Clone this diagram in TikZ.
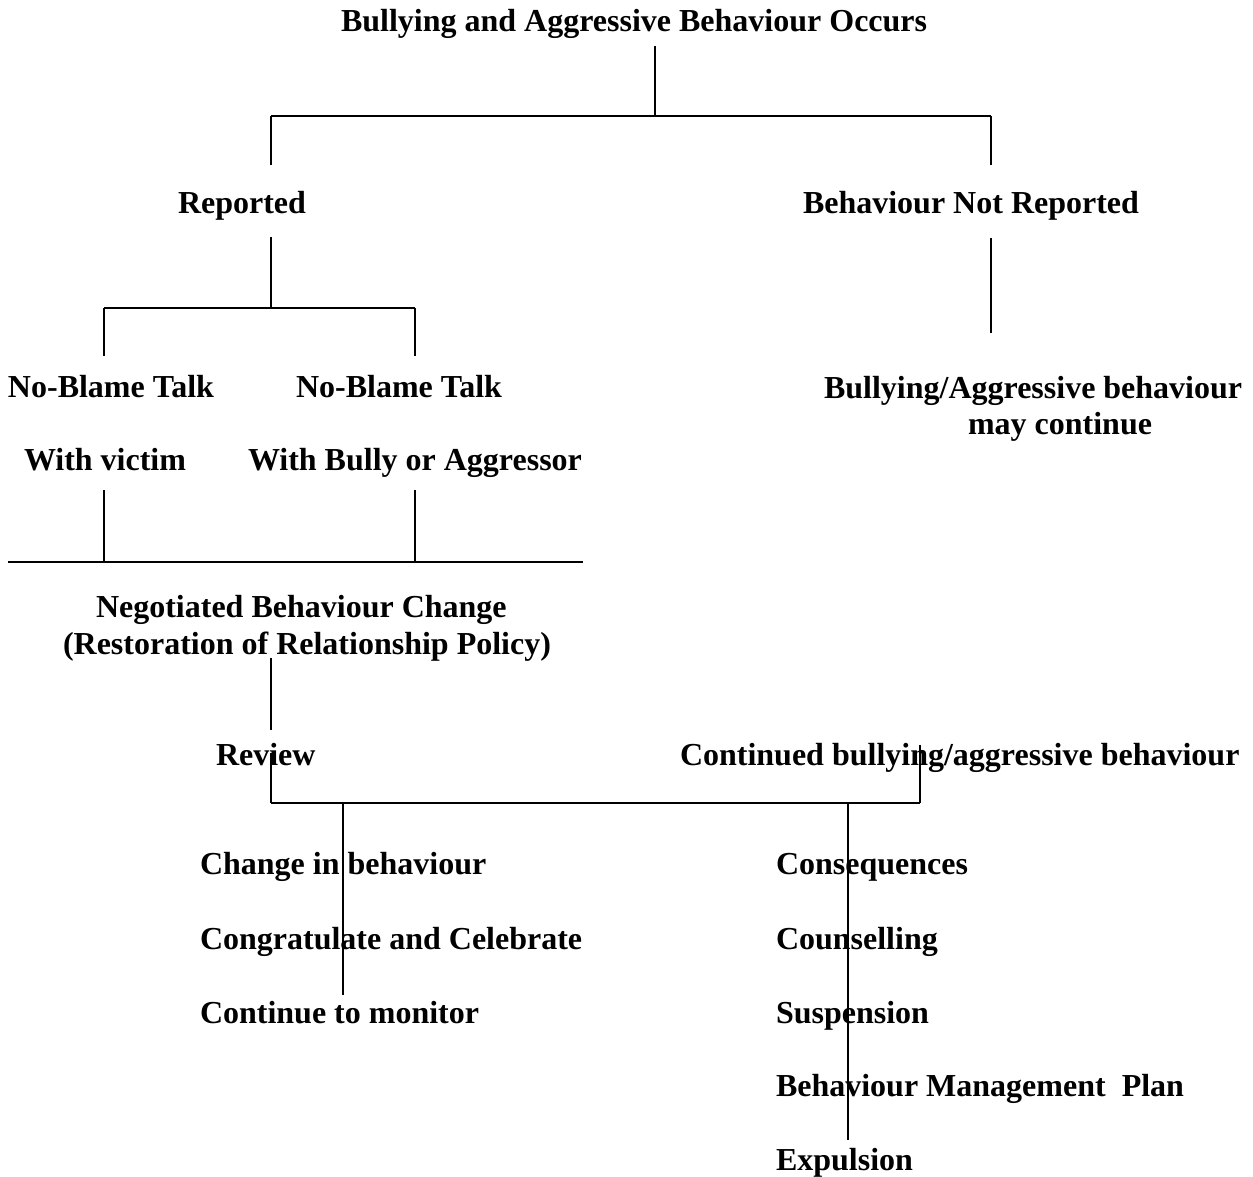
\documentclass[tikz,border=0pt]{standalone}
\usepackage{fontspec}
\setmainfont{Liberation Serif}
\begin{document}
\begin{tikzpicture}[x=1pt,y=-1pt,
  lbl/.style={inner sep=0pt,outer sep=0pt,anchor=base west,font=\fontsize{32}{37}\selectfont\bfseries},
  vline/.style={line width=1.3pt},
  hline/.style={line width=2.2pt}]
\useasboundingbox[fill=white] (0,0) rectangle (1253,1176);
% texts
\node[lbl] (title) at (341,31) {Bullying and Aggressive Behaviour Occurs};
\node[lbl] (rep) at (178,213) {Reported};
\node[lbl] (notrep) at (803,213) {Behaviour Not Reported};
\node[lbl] (nb1) at (8,397) {No-Blame Talk};
\node[lbl] (nb2) at (296,397) {No-Blame Talk};
\node[lbl] (wv) at (24,470) {With victim};
\node[lbl] (wb) at (248,470) {With Bully or Aggressor};
\node[lbl] (bac) at (824,398) {Bullying/Aggressive behaviour};
\node[lbl] (mc) at (968,434) {may continue};
\node[lbl] (neg) at (96,617) {Negotiated Behaviour Change};
\node[lbl] (rest) at (63,654) {(Restoration of Relationship Policy)};
\node[lbl] (review) at (216,765) {Review};
\node[lbl] (cont) at (680,765) {Continued bullying/aggressive behaviour};
\node[lbl] (cib) at (200,874) {Change in behaviour};
\node[lbl] (cong) at (200,949) {Congratulate and Celebrate};
\node[lbl] (ctm) at (200,1023) {Continue to monitor};
\node[lbl] (cons) at (776,874) {Consequences};
\node[lbl] (couns) at (776,949) {Counselling};
\node[lbl] (susp) at (776,1023) {Suspension};
\node[lbl] (bmp) at (776,1096) {Behaviour Management\ \ Plan};
\node[lbl] (exp) at (776,1170) {Expulsion};
% junction coordinates
\coordinate (a0) at (655,46);
\coordinate (a1) at (655,116);
\coordinate (aL) at (271,116);
\coordinate (aR) at (991,116);
\coordinate (aLd) at (271,165);
\coordinate (aRd) at (991,165);
\coordinate (b0) at (271,237);
\coordinate (b1) at (271,308);
\coordinate (bL) at (104,308);
\coordinate (bR) at (415,308);
\coordinate (bLd) at (104,356);
\coordinate (bRd) at (415,356);
\coordinate (n0) at (991,238);
\coordinate (n1) at (991,333);
\coordinate (c0L) at (104,490);
\coordinate (c0R) at (415,490);
\coordinate (c1L) at (104,562);
\coordinate (c1R) at (415,562);
\coordinate (cW) at (8,562);
\coordinate (cE) at (583,562);
\coordinate (d0) at (271,658);
\coordinate (d1) at (271,730);
\coordinate (e0L) at (271,753);
\coordinate (e0R) at (920,745);
\coordinate (e1L) at (271,803);
\coordinate (e1R) at (920,803);
\coordinate (f0L) at (343,803);
\coordinate (f1L) at (343,995);
\coordinate (f0R) at (848,803);
\coordinate (f1R) at (848,1140);
% connectors
\draw[vline] (a0) -- (a1);
\draw[hline] (aL) -- (aR);
\draw[vline] (aL) -- (aLd);
\draw[vline] (aR) -- (aRd);
\draw[vline] (b0) -- (b1);
\draw[hline] (bL) -- (bR);
\draw[vline] (bL) -- (bLd);
\draw[vline] (bR) -- (bRd);
\draw[vline] (n0) -- (n1);
\draw[vline] (c0L) -- (c1L);
\draw[vline] (c0R) -- (c1R);
\draw[hline] (cW) -- (cE);
\draw[vline] (d0) -- (d1);
\draw[vline] (e0L) -- (e1L);
\draw[vline] (e0R) -- (e1R);
\draw[hline] (e1L) -- (e1R);
\draw[vline] (f0L) -- (f1L);
\draw[vline] (f0R) -- (f1R);
\end{tikzpicture}
\end{document}
